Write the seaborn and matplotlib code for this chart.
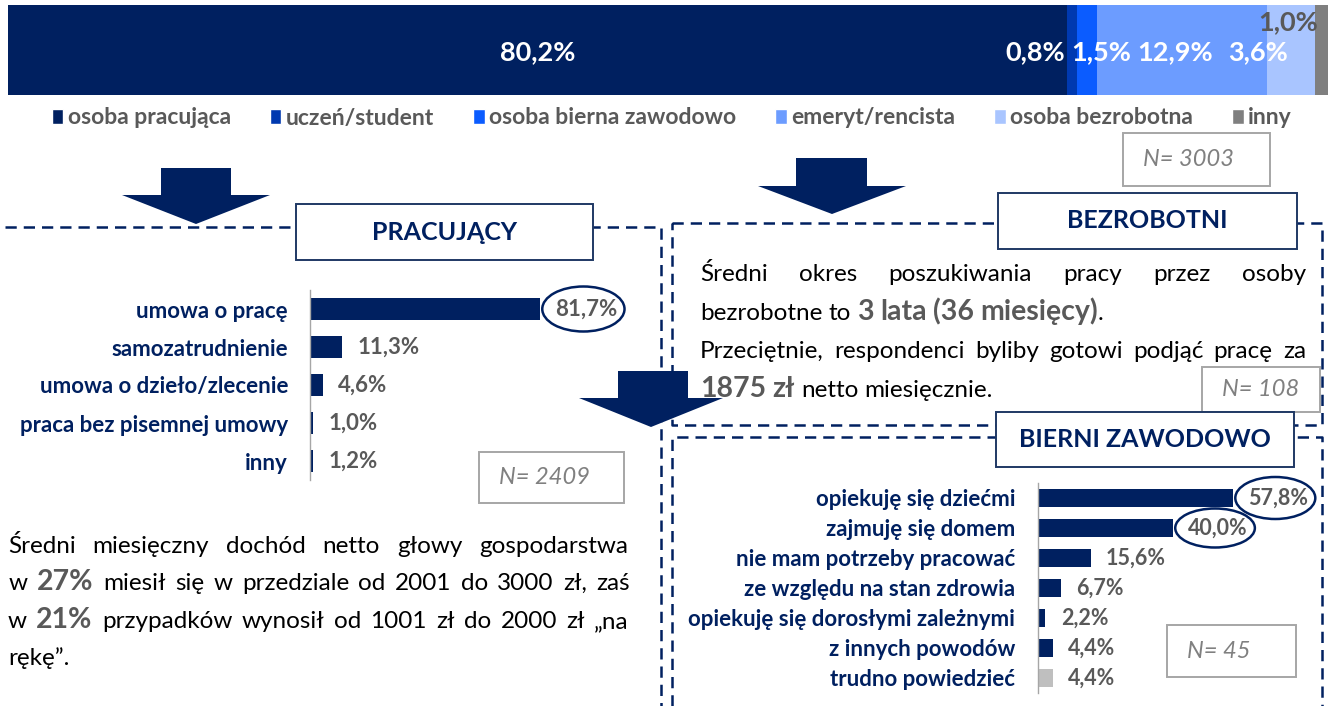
import matplotlib
matplotlib.use("Agg")

import numpy as np
import matplotlib.pyplot as plt
import seaborn as sns
from matplotlib.patches import Rectangle, Polygon, Patch, Ellipse

W, H = 1328, 706
NAVY = "#002060"
GREY_TXT = "#595959"
N_GREY = "#808080"

# --- data ---
STATUS_LABELS = ["osoba pracująca", "uczeń/student", "osoba bierna zawodowo",
                 "emeryt/rencista", "osoba bezrobotna", "inny"]
STATUS_VALUES = [80.2, 0.8, 1.5, 12.9, 3.6, 1.0]
STATUS_COLORS = ["#002060", "#0039B0", "#0B5CFF", "#6C9CFF", "#A9C5FF", "#7F7F7F"]

WORK_LABELS = ["umowa o pracę", "samozatrudnienie", "umowa o dzieło/zlecenie",
               "praca bez pisemnej umowy", "inny"]
WORK_VALUES = [81.7, 11.3, 4.6, 1.0, 1.2]

INACTIVE_LABELS = ["opiekuję się dziećmi", "zajmuję się domem", "nie mam potrzeby pracować",
                   "ze względu na stan zdrowia", "opiekuję się dorosłymi zależnymi",
                   "z innych powodów", "trudno powiedzieć"]
INACTIVE_VALUES = [57.8, 40.0, 15.6, 6.7, 2.2, 4.4, 4.4]
INACTIVE_COLORS = [NAVY] * 6 + ["#BFBFBF"]

N_TOTAL, N_WORK, N_UNEMP, N_INACTIVE = 3003, 2409, 108, 45

sns.set_style("white")
plt.rcParams["font.family"] = ["Lato", "DejaVu Sans"]

fig = plt.figure(figsize=(W / 100, H / 100), dpi=100)
renderer = fig.canvas.get_renderer()


def pct(v):
    return f"{v:.1f}%".replace(".", ",")


def px_axes(x0, y0, x1, y1, **kw):
    return fig.add_axes([x0 / W, 1 - y1 / H, (x1 - x0) / W, (y1 - y0) / H], **kw)


# --- top stacked bar (cumulative bars drawn from the longest down) ---
ax_top = px_axes(8, 5, 1328, 95)
cum = np.cumsum(STATUS_VALUES)
for total, color in zip(cum[::-1], STATUS_COLORS[::-1]):
    sns.barplot(x=[total], y=["ogółem"], color=color, width=1, saturation=1,
                linewidth=0, ax=ax_top)
ax_top.set_xlim(0, 100)
ax_top.set_ylim(0.5, -0.5)
ax_top.axis("off")

centers = cum - np.array(STATUS_VALUES) / 2
TOP_DX = [0, -2.8, 1.1, -0.5, -2.5, -2.5]
TOP_DY = [0.02, 0.02, 0.02, 0.02, 0.02, -0.31]
for i, v in enumerate(STATUS_VALUES):
    ax_top.text(centers[i] + TOP_DX[i], TOP_DY[i], pct(v), ha="center", va="center",
                fontsize=19.5, fontweight="bold",
                color=GREY_TXT if i == len(STATUS_VALUES) - 1 else "white")

leg = fig.legend(handles=[Patch(facecolor=c) for c in STATUS_COLORS], labels=STATUS_LABELS,
                 loc="center", bbox_to_anchor=(672 / W, 1 - 118 / H), ncol=6, frameon=False,
                 prop=dict(weight="bold", size=16.5), handlelength=0.5, handleheight=0.6,
                 handletextpad=0.2, columnspacing=1.7)
for t in leg.get_texts():
    t.set_color(GREY_TXT)

# --- overlay in pixel coordinates: frames, boxes, arrows, paragraphs ---
ov = fig.add_axes([0, 0, 1, 1], zorder=5)
ov.set_xlim(0, W)
ov.set_ylim(H, 0)
ov.axis("off")


# --- horizontal bar charts ---
def hbar(ax, labels, values, colors, label_size, tick_size, pad_px, width, rings):
    sns.barplot(x=values, y=labels, hue=labels, palette=colors, legend=False,
                width=width, saturation=1, linewidth=0, ax=ax)
    ax.set_xlim(0, 100)
    ax.set_ylim(len(labels) - 0.5, -0.5)
    ax.set_xlabel("")
    ax.set_ylabel("")
    ax.set_xticks([])
    for s in ["top", "right", "bottom"]:
        ax.spines[s].set_visible(False)
    ax.spines["left"].set_color("#A6A6A6")
    ax.spines["left"].set_linewidth(1)
    ax.tick_params(axis="y", length=0, pad=pad_px * 0.72, labelsize=tick_size,
                   labelcolor=NAVY)
    for t in ax.get_yticklabels():
        t.set_fontweight("bold")
    ax.patch.set_alpha(0)
    for i, (cont, v) in enumerate(zip(ax.containers, values)):
        txts = ax.bar_label(cont, labels=[pct(v)], padding=11, fontsize=label_size,
                            fontweight="bold", color=GREY_TXT)
        if i in rings:
            # ring drawn around the label, sized from its rendered extent
            bb = txts[0].get_window_extent(renderer)
            cx = (bb.x0 + bb.x1) / 2 - 3
            cy = H - (bb.y0 + bb.y1) / 2
            ov.add_patch(Ellipse((cx, cy), bb.width + 20, rings[i], fc="none",
                                 ec=NAVY, lw=1.8, zorder=4))


ax_work = px_axes(310, 290, 310 + 281.5, 480)
hbar(ax_work, WORK_LABELS, WORK_VALUES, [NAVY] * len(WORK_LABELS), 16, 16, 22, 0.58, {0: 45})

ax_inact = px_axes(1038, 483, 1038 + 337.4, 693)
hbar(ax_inact, INACTIVE_LABELS, INACTIVE_VALUES, INACTIVE_COLORS, 15.5, 16, 23, 0.57,
     {0: 42, 1: 39})

dash = dict(color=NAVY, lw=1.8, linestyle=(0, (4.5, 2.8)))
ov.plot([5, 661, 661], [227, 227, 706], **dash)
ov.plot([672, 1322, 1322, 672, 672], [223, 223, 425, 425, 223], **dash)
ov.plot([672, 672, 1322, 1322], [706, 437, 437, 706], **dash)


def title_box(x0, y0, x1, y1, text):
    ov.add_patch(Rectangle((x0, y0), x1 - x0, y1 - y0, fc="white", ec="#1F3864", lw=1.4, zorder=3))
    ov.text((x0 + x1) / 2, (y0 + y1) / 2, text, ha="center", va="center", fontsize=18,
            fontweight="bold", color=NAVY, zorder=4)


def n_box(x0, y0, x1, y1, n):
    ov.add_patch(Rectangle((x0, y0), x1 - x0, y1 - y0, fc="white", ec="#A6A6A6", lw=1.4, zorder=3))
    ov.text(x0 + 20, (y0 + y1) / 2, f"N= {n}", ha="left", va="center", fontsize=17,
            fontstyle="italic", color=N_GREY, zorder=4)


title_box(296, 204, 593, 260, "PRACUJĄCY")
title_box(998, 193, 1297, 249, "BEZROBOTNI")
n_box(1202, 367, 1320, 412, N_UNEMP)
title_box(996, 412, 1294, 467, "BIERNI ZAWODOWO")
n_box(1123, 133, 1270, 186, N_TOTAL)
n_box(479, 452, 624, 503, N_WORK)
n_box(1167, 625, 1296, 677, N_INACTIVE)


def down_arrow(xl, xr, ytop, ybase, hl, hr, tip_y):
    pts = [(xl, ytop), (xr, ytop), (xr, ybase), (hr, ybase), ((hl + hr) / 2, tip_y),
           (hl, ybase), (xl, ybase)]
    ov.add_patch(Polygon(pts, closed=True, fc=NAVY, ec="none", zorder=6))


down_arrow(161, 231, 168, 195, 122, 270, 224)
down_arrow(796, 867, 158, 186, 758, 906, 214)
down_arrow(618, 688, 371, 398, 579, 723, 427)

NORMAL = dict(fontsize=17.5, color="black")
HIGH = dict(fontsize=20.5, fontweight="bold", color=GREY_TXT)


def text_line(runs, x0, y, x1=None):
    toks = []
    prev_space = False
    for text, st in runs:
        for i, part in enumerate(text.split(" ")):
            if not part:
                continue
            sp = bool(toks) and (i > 0 or prev_space)
            toks.append((part, st, sp))
        prev_space = text.endswith(" ")
    arts, widths = [], []
    for word, st, sp in toks:
        t = ov.text(x0, y, word, ha="left", va="baseline", zorder=4, **st)
        arts.append(t)
        widths.append(t.get_window_extent(renderer).width)
    probe_a = ov.text(0, 0, "x x", **NORMAL)
    probe_b = ov.text(0, 0, "xx", **NORMAL)
    space = probe_a.get_window_extent(renderer).width - probe_b.get_window_extent(renderer).width
    probe_a.remove()
    probe_b.remove()
    n_sp = sum(1 for _, _, sp in toks if sp)
    if x1 is not None and n_sp:
        space = max((x1 - x0 - sum(widths)) / n_sp, 2)
    x = x0
    for (word, st, sp), t, w in zip(toks, arts, widths):
        if sp:
            x += space
        t.set_x(x)
        x += w


text_line([("Średni okres poszukiwania pracy przez osoby", NORMAL)], 700, 281, 1306)
text_line([("bezrobotne to ", NORMAL), ("3 lata (36 miesięcy)", HIGH), (".", NORMAL)], 700, 320)
text_line([("Przeciętnie, respondenci byliby gotowi podjąć pracę za", NORMAL)], 700, 358, 1306)
text_line([("1875 zł", HIGH), (" netto miesięcznie.", NORMAL)], 700, 397)

text_line([("Średni miesięczny dochód netto głowy gospodarstwa", NORMAL)], 8, 553, 628)
text_line([("w ", NORMAL), ("27%", HIGH), (" miesił się w przedziale od 2001 do 3000 zł, zaś", NORMAL)],
          9, 590, 630)
text_line([("w ", NORMAL), ("21%", HIGH), (" przypadków wynosił od 1001 zł do 2000 zł „na", NORMAL)],
          8, 628, 629)
text_line([("rękę”.", NORMAL)], 8, 665)

fig.savefig("out.png", dpi=100)
